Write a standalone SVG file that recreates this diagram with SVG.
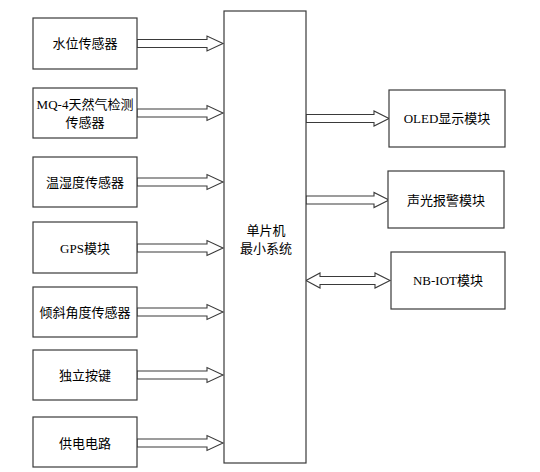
<svg xmlns="http://www.w3.org/2000/svg" width="540" height="472" viewBox="0 0 540 472">
<style>
.box{fill:#fff;stroke:#3a3a3a;stroke-width:1.2}
.arr{fill:#fff;stroke:#3a3a3a;stroke-width:1.1;stroke-linejoin:miter}
.t{font-family:"Liberation Serif","Noto Sans CJK SC",sans-serif;font-size:13px;fill:#000;text-anchor:middle;dominant-baseline:central}
</style>
<rect width="540" height="472" fill="#fff"/>
<g id="connectors">
<polygon class="arr" points="137,39.5 207,39.5 207,36 223,43.5 207,51 207,47.5 137,47.5"/>
<polygon class="arr" points="137,109 207,109 207,105.5 223,113 207,120.5 207,117 137,117"/>
<polygon class="arr" points="137,178 207,178 207,174.5 223,182 207,189.5 207,186 137,186"/>
<polygon class="arr" points="137,244 207,244 207,240.5 223,248 207,255.5 207,252 137,252"/>
<polygon class="arr" points="137,308 207,308 207,304.5 223,312 207,319.5 207,316 137,316"/>
<polygon class="arr" points="137,371 207,371 207,367.5 223,375 207,382.5 207,379 137,379"/>
<polygon class="arr" points="137,439 207,439 207,435.5 223,443 207,450.5 207,447 137,447"/>
<polygon class="arr" points="306,114.5 374,114.5 374,111 389,118.5 374,126 374,122.5 306,122.5"/>
<polygon class="arr" points="306,196 374,196 374,192.5 389,200 374,207.5 374,204 306,204"/>
<polygon class="arr" points="306,280.5 320,273 320,276.5 375,276.5 375,273 390,280.5 375,288 375,284.5 320,284.5 320,288"/>
</g>
<g id="n1"><rect class="box" x="33" y="18" width="104" height="51"/><text class="t" x="85" y="43.5">水位传感器</text></g>
<g id="n2"><rect class="box" x="33" y="88" width="104" height="50"/><text class="t" x="85" y="104.5">MQ-4天然气检测</text><text class="t" x="85" y="122.5">传感器</text></g>
<g id="n3"><rect class="box" x="33" y="157" width="104" height="50"/><text class="t" x="85" y="182">温湿度传感器</text></g>
<g id="n4"><rect class="box" x="33" y="222" width="104" height="51"/><text class="t" x="85" y="248">GPS模块</text></g>
<g id="n5"><rect class="box" x="33" y="287" width="104" height="50"/><text class="t" x="85" y="312">倾斜角度传感器</text></g>
<g id="n6"><rect class="box" x="33" y="350" width="104" height="50"/><text class="t" x="85" y="375">独立按键</text></g>
<g id="n7"><rect class="box" x="33" y="417" width="104" height="50"/><text class="t" x="85" y="443">供电电路</text></g>
<g id="mcu"><rect class="box" x="224" y="11" width="82" height="452"/><text class="t" x="266" y="230">单片机</text><text class="t" x="266" y="248">最小系统</text></g>
<g id="r1"><rect class="box" x="389" y="90" width="116" height="57"/><text class="t" x="447" y="118.5">OLED显示模块</text></g>
<g id="r2"><rect class="box" x="388" y="171" width="116" height="57"/><text class="t" x="446" y="200">声光报警模块</text></g>
<g id="r3"><rect class="box" x="391" y="252" width="114" height="57"/><text class="t" x="448" y="280.5">NB-IOT模块</text></g>
</svg>
